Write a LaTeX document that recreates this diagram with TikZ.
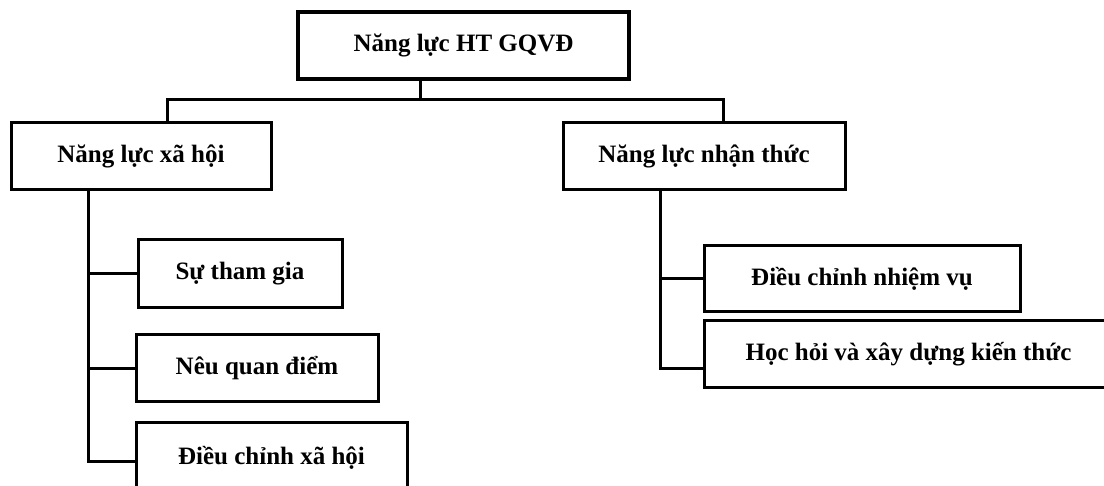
\documentclass[tikz,border=0pt]{standalone}
\usepackage{fontspec}
\setmainfont{Liberation Serif}
\begin{document}
\begin{tikzpicture}[x=1pt,y=-1pt,
  box/.style={draw,line width=3pt,minimum height=67pt,inner sep=0pt,
    font=\fontsize{25}{30}\selectfont\bfseries},
  conn/.style={line width=3pt,line cap=rect}]
\clip (0,0) rectangle (1104,486);
\node[box,line width=4pt,minimum width=331pt] (top) at (463.5,45.5) {Năng lực HT GQVĐ};
\node[box,minimum width=260pt] (xh) at (141,156.5) {Năng lực xã hội};
\node[box,minimum width=282pt] (nt) at (704,156.5) {Năng lực nhận thức};
\node[box,minimum width=204pt,minimum height=68pt] (stg) at (240,274) {Sự tham gia};
\node[box,minimum width=242pt] (nqd) at (257,368.5) {Nêu quan điểm};
\node[box,minimum width=271pt,minimum height=69pt] (dcxh) at (271.5,457.5) {Điều chỉnh xã hội};
\node[box,minimum width=316pt,minimum height=66pt] (dcnv) at (862,279) {Điều chỉnh nhiệm vụ};
\node[box,minimum width=409pt] (hh) at (908.5,354.5) {Học hỏi và xây dựng kiến thức};
\coordinate (J) at (420,100);
\coordinate (L) at (167,100);
\coordinate (R) at (723,100);
\coordinate (LS) at (88,0);
\coordinate (RS) at (660,0);
\draw[conn] (J |- top.south) -- (J);
\draw[conn] (L) -- (R);
\draw[conn] (L) -- (L |- xh.north);
\draw[conn] (R) -- (R |- nt.north);
\draw[conn] (LS |- xh.south) |- ([yshift=-3.5pt]dcxh.west);
\draw[conn] (LS |- stg.west) -- (stg.west);
\draw[conn] (LS |- nqd.west) -- (nqd.west);
\draw[conn] (RS |- nt.south) |- ([yshift=-14.5pt]hh.west);
\draw[conn] (RS |- dcnv.west) -- (dcnv.west);
\end{tikzpicture}
\end{document}
